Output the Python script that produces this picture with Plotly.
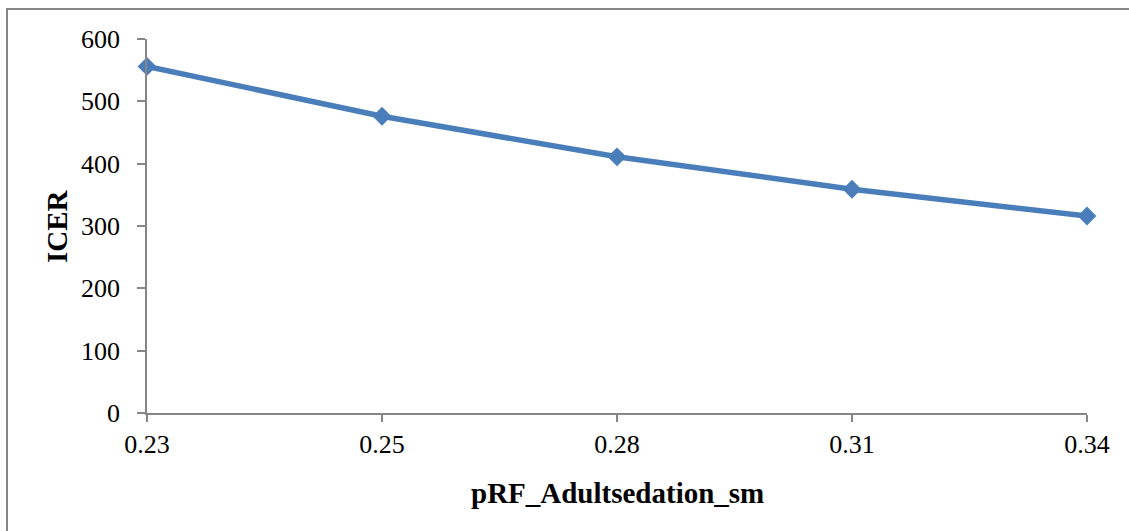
import plotly.graph_objects as go

categories = ["0.23", "0.25", "0.28", "0.31", "0.34"]
icer = [556, 476, 411, 359, 316]
y_ticks = [0, 100, 200, 300, 400, 500, 600]

W, H = 1129, 531
L, R, T, B = 147, 1129 - 1087, 39, 531 - 413
pw, ph = W - L - R, H - T - B

fig = go.Figure()
fig.add_trace(go.Scatter(
    x=list(range(len(categories))), y=icer, mode="lines+markers",
    line=dict(color="#4A7EBB", width=5.5),
    marker=dict(symbol="diamond", size=14.5, color="#4A7EBB"),
    showlegend=False, cliponaxis=False,
))

font_family = "Liberation Serif"
axis_col = "#868686"
fig.update_layout(
    width=W, height=H,
    margin=dict(l=L, r=R, t=T, b=B),
    paper_bgcolor="white", plot_bgcolor="white",
    font=dict(family=font_family, size=26, color="black"),
    xaxis=dict(
        range=[0, len(categories) - 1], tickmode="array",
        tickvals=list(range(len(categories))), ticktext=categories,
        showgrid=False, zeroline=False, showline=True, linecolor=axis_col, linewidth=1.5,
        ticks="outside", ticklen=7, tickcolor=axis_col, tickwidth=1.5,
        tickfont=dict(size=26, family=font_family),
    ),
    yaxis=dict(
        range=[0, 600], tickmode="array", tickvals=y_ticks,
        showgrid=False, zeroline=False, showline=True, linecolor=axis_col, linewidth=1.5,
        ticks="outside", ticklen=8, tickcolor=axis_col, tickwidth=1.5,
        tickfont=dict(size=26, family=font_family), ticklabelstandoff=12,
    ),
    annotations=[
        dict(text="<b>pRF_Adultsedation_sm</b>", xref="paper", yref="paper",
             x=0.5, y=(413 - 493) / ph, xanchor="center", yanchor="middle",
             showarrow=False, font=dict(size=29, family=font_family)),
        dict(text="<b>ICER</b>", xref="paper", yref="paper",
             x=(57 - L) / pw, y=0.5, xanchor="center", yanchor="middle",
             textangle=-90, showarrow=False, font=dict(size=29, family=font_family)),
    ],
    shapes=[
        dict(type="rect", xref="paper", yref="paper",
             x0=(7 - L) / pw, x1=(1250 - L) / pw,
             y0=(413 - 600) / ph, y1=(413 - 9) / ph,
             line=dict(color=axis_col, width=2), layer="below"),
    ],
)

fig.write_html("out.html")
